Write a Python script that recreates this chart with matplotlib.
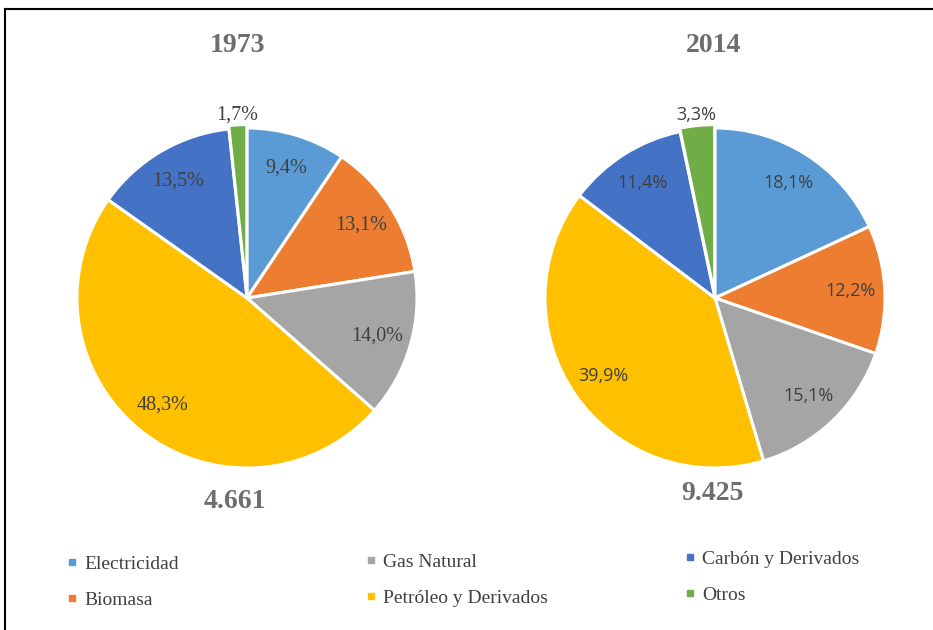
import numpy as np
import matplotlib
matplotlib.use("Agg")
import matplotlib.pyplot as plt
from matplotlib.lines import Line2D

# --- data ---
categories = ["Electricidad", "Biomasa", "Gas Natural",
              "Petróleo y Derivados", "Carbón y Derivados", "Otros"]
shares_1973 = [9.4, 13.1, 14.0, 48.3, 13.5, 1.7]
shares_2014 = [18.1, 12.2, 15.1, 39.9, 11.4, 3.3]
years = ["1973", "2014"]
totals = ["4.661", "9.425"]
colors = ["#5B9BD5", "#ED7D31", "#A5A5A5", "#FFC000", "#4472C4", "#70AD47"]

W, H = 933, 630
R = 170  # pie radius in px
TXT = "#404040"
TITLE = "#6E6E6E"


def fx(px):
    return px / W


def fy(py):
    return 1 - py / H


def draw_pie(cx, cy, values, label_font, label_size):
    span = 2 * 1.25 * R
    ax = fig.add_axes([fx(cx - span / 2), fy(cy + span / 2), span / W, span / H])
    ax.set_xlim(-1.25, 1.25)
    ax.set_ylim(-1.25, 1.25)
    ax.set_aspect("equal")
    ax.axis("off")
    explode = [0, 0, 0, 0, 0, 0.02]
    wedges, _ = ax.pie(values, colors=colors, startangle=90, counterclock=False,
                       explode=explode, radius=1,
                       wedgeprops=dict(edgecolor="white", linewidth=2.2))
    for i, (w, v) in enumerate(zip(wedges, values)):
        ang = np.deg2rad((w.theta1 + w.theta2) / 2)
        d = 1.08 if i == len(values) - 1 else 0.8
        ax.text(d * np.cos(ang), d * np.sin(ang), f"{v:.1f}%".replace(".", ","),
                ha="center", va="center", color=TXT, fontsize=label_size,
                family=label_font)
    return ax


fig = plt.figure(figsize=(W / 100, H / 100), dpi=100)

draw_pie(247, 298, shares_1973, "Liberation Serif", 14.5)
draw_pie(715, 298, shares_2014, "Open Sans", 13)

# titles and totals
for x, y, s in [(237, 46, years[0]), (714, 46, years[1])]:
    fig.text(fx(x), fy(y), s, ha="center", va="center", fontsize=20,
             fontweight="bold", family="Liberation Serif", color=TITLE)
for x, y, s in [(235, 501, totals[0]), (712, 494, totals[1])]:
    fig.text(fx(x), fy(y), s, ha="center", va="center", fontsize=20,
             fontweight="bold", family="Liberation Serif", color=TITLE)

# frame lines (top and left)
fig.add_artist(Line2D([fx(5), 1], [fy(9), fy(9)], color="black", lw=1.5))
fig.add_artist(Line2D([fx(5), fx(5)], [fy(9), 0], color="black", lw=1.5))

# legend: three columns, two rows each
handles = [Line2D([], [], marker="s", linestyle="", markersize=5,
                  markerfacecolor=c, markeredgecolor=c) for c in colors]
col_x = [66, 365, 684]
col_y = [555, 553, 550]
for k in range(3):
    idx = [2 * k, 2 * k + 1]
    leg = fig.legend([handles[i] for i in idx], [categories[i] for i in idx],
                     loc="upper left", bbox_to_anchor=(fx(col_x[k]), fy(col_y[k])),
                     frameon=False, handlelength=0.6, handletextpad=0.35,
                     labelspacing=0.95, borderpad=0, borderaxespad=0,
                     prop=dict(family="Liberation Serif", size=14))
    for t in leg.get_texts():
        t.set_color(TXT)

fig.savefig("out.png", dpi=100)
